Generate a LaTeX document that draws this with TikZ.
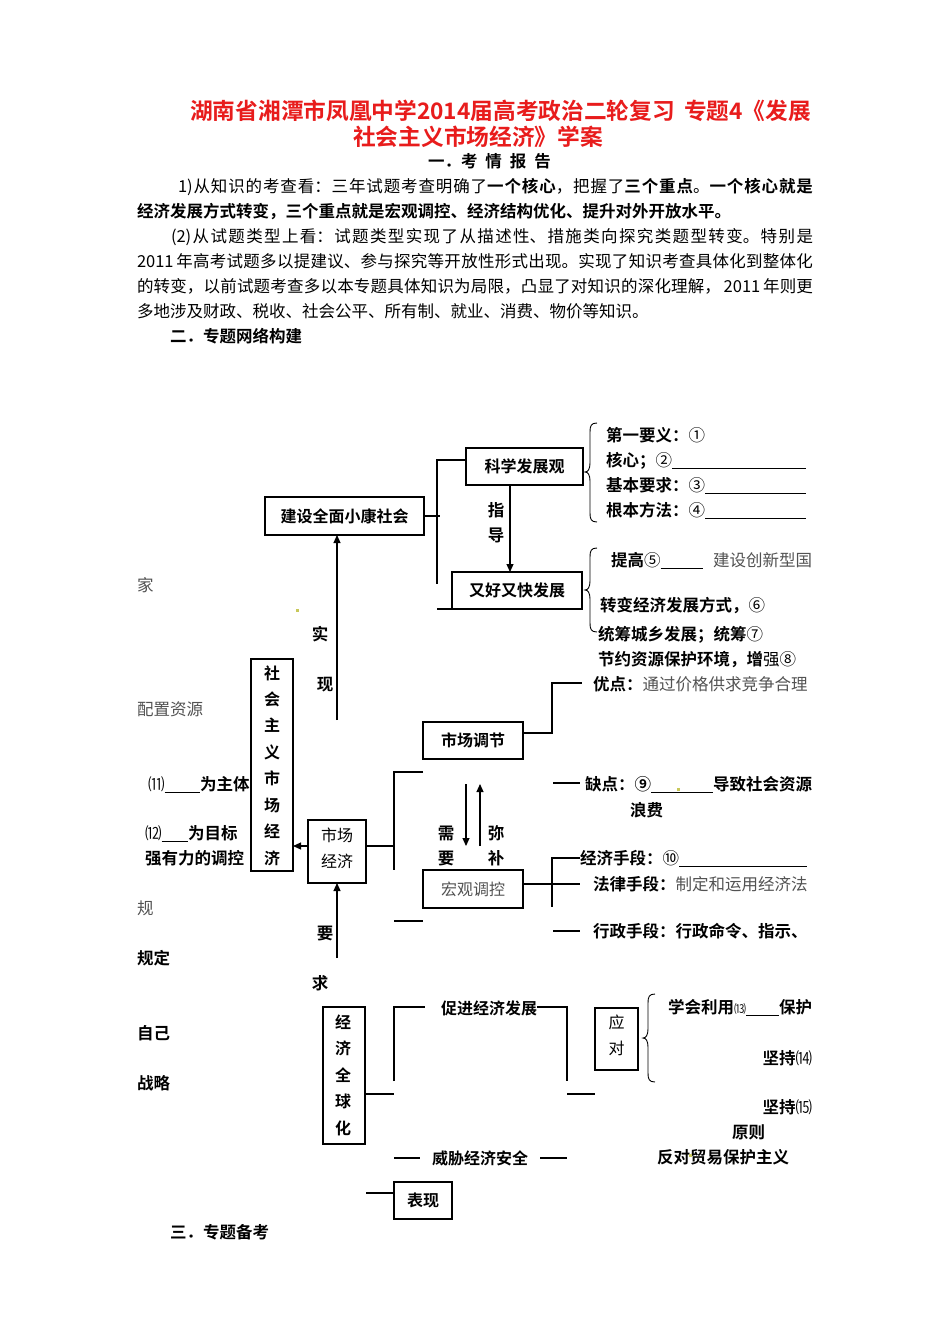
\documentclass[tikz,border=0pt]{standalone}
\usepackage{fontspec}
\setmainfont{Noto Sans CJK SC}[BoldFont={Noto Sans CJK SC Bold}]
\usetikzlibrary{arrows.meta}
\XeTeXlinebreaklocale "zh"
\XeTeXlinebreakskip=0pt plus 2pt minus 0.5pt
\definecolor{titlered}{RGB}{232,28,28}
\definecolor{soft}{gray}{0.32}
\definecolor{dotc}{RGB}{200,200,90}
\newcommand{\cbrace}[4]{%
  \draw[line width=0.9pt] ({#1+7},#2) .. controls ({#1+1},#2) and (#1,{#2+3}) .. (#1,{#2+9})
    -- (#1,{#3-9}) .. controls (#1,{#3-3}) and ({#1-2},#3) .. ({#1-5},#3)
    .. controls ({#1-2},#3) and (#1,{#3+3}) .. (#1,{#3+9})
    -- (#1,{#4-9}) .. controls (#1,{#4-3}) and ({#1+1},#4) .. ({#1+7},#4);}
\newcommand{\firstline}{\vrule width 0pt height 14.5pt depth 0pt\relax}
\tikzset{
  mytext/.style={inner sep=0pt, outer sep=0pt, anchor=west, text height=14.5pt, text depth=2pt, font=\fontsize{16.5}{20}\selectfont},
  mylbl/.style={mytext, anchor=center, font=\fontsize{16.5}{20}\selectfont\bfseries},
  mybox/.style={draw, line width=1.1pt, inner sep=0pt, outer sep=0pt, text height=14.1pt, text depth=1.9pt, font=\fontsize{16}{20}\selectfont\bfseries},
  boxch/.style={inner sep=0pt, outer sep=0pt, text height=14.1pt, text depth=1.9pt, font=\fontsize{16}{20}\selectfont\bfseries},
  boxchr/.style={boxch, font=\fontsize{16}{20}\selectfont},
  myline/.style={line width=1.1pt},
  myarrow/.style={line width=1.1pt, -{Triangle[length=8pt,width=7pt]}},
  myul/.style={line width=0.7pt},
  para/.style={anchor=north west, inner sep=0pt, outer sep=0pt, text width=676pt, align=justify, font=\fontsize{16.5}{25}\selectfont},
}
\begin{document}
\begin{tikzpicture}[x=1pt,y=-1pt]
\fill[white] (0,0) rectangle (950,1344);
\useasboundingbox (0,0) rectangle (950,1344);

% ---------- title ----------
\node[inner sep=0pt, anchor=west, text height=20pt, text depth=2.7pt, font=\fontsize{22.7}{26}\selectfont\bfseries, text=titlered] (t1) at (190,111) {湖南省湘潭市凤凰中学2014届高考政治二轮复习\hspace{9pt}专题4《发展};
\node[inner sep=0pt, anchor=west, text height=20pt, text depth=2.7pt, font=\fontsize{22.7}{26}\selectfont\bfseries, text=titlered] (t2) at (353,137) {社会主义市场经济》学案};
\node[mytext, font=\fontsize{16.5}{20}\selectfont\bfseries] (h1) at (428,161) {一．考\hspace{8pt}情\hspace{8pt}报\hspace{8pt}告};

\node[para] (p1) at (137,177.75) {\tolerance=9999 \firstline\hspace*{41pt}1)从知识的考查看：三年试题考查明确了\textbf{一个核心}，把握了\textbf{三个重点}。\textbf{一个核心就是}\linebreak\textbf{经济发展方式转变，三个重点就是宏观调控、经济结构优化、提升对外开放水平。}};
\node[para] (p2) at (137,227.75) {\tolerance=9999 \firstline\hspace*{34pt}(2)从试题类型上看：试题类型实现了从描述性、措施类向探究类题型转变。特别是\linebreak 2011\,年高考试题多以提建议、参与探究等开放性形式出现。实现了知识考查具体化到整体化\linebreak 的转变，以前试题考查多以本专题具体知识为局限，凸显了对知识的深化理解，\,2011\,年则更\linebreak 多地涉及财政、税收、社会公平、所有制、就业、消费、物价等知识。};

\node[mytext, font=\fontsize{16.5}{20}\selectfont\bfseries] (h2) at (170,336) {二．专题网络构建};
\node[mytext, font=\fontsize{16.5}{20}\selectfont\bfseries] (h3) at (170,1232) {三．专题备考};

% ---------- boxes ----------
\node[mybox, minimum width=159pt, minimum height=38pt] (js) at (344.5,516) {建设全面小康社会};
\node[mybox, minimum width=117pt, minimum height=37pt] (kx) at (524.5,466.5) {科学发展观};
\node[mybox, minimum width=130pt, minimum height=37pt] (hk) at (517,590.5) {又好又快发展};
\node[mybox, minimum width=42pt, minimum height=212pt] (sme) at (272,765) {};
\foreach \c [count=\i from 0] in {社,会,主,义,市,场,经,济}
  \node[boxch] (sme\i) at (272,{673+26.43*\i}) {\c};
\node[mybox, minimum width=58pt, minimum height=63pt] (scjj) at (337,851.5) {};
\node[boxchr] (scjja) at (337,835) {市场};
\node[boxchr] (scjjb) at (337,861) {经济};
\node[mybox, minimum width=100pt, minimum height=37pt] (sctj) at (473,740.5) {市场调节};
\node[mybox, minimum width=100pt, minimum height=38pt, font=\fontsize{16}{20}\selectfont, text=soft] (hgtk) at (473,889) {宏观调控};
\node[mybox, minimum width=42pt, minimum height=137pt] (qqh) at (344,1075.5) {};
\foreach \c [count=\i from 0] in {经,济,全,球,化}
  \node[boxch] (qqh\i) at (343,{1022+26.5*\i}) {\c};
\node[mybox, minimum width=43pt, minimum height=62pt] (yd) at (616.5,1039) {};
\node[boxchr] (yda) at (616.5,1022) {应};
\node[boxchr] (ydb) at (616.5,1048) {对};
\node[mybox, minimum width=58pt, minimum height=37pt] (bx) at (423,1200.5) {表现};

% ---------- top cluster connectors ----------
\coordinate (v1t) at (437,460);
\coordinate (v1b) at (437,584);
\coordinate (v1s) at (440,516);
\coordinate (v1c) at (437,609);
\draw[myline] (kx.west |- v1t) -- (v1t) -- (v1b);
\draw[myline] (js.east) -- (v1s);
\draw[myline] (v1c) -- (hk.south west);
\coordinate (zd) at (510,0);
\draw[myarrow] (kx.south -| zd) -- (hk.north -| zd);
\node[mylbl] (lz1) at (496,510) {指};
\node[mylbl] (lz2) at (496,535) {导};

\coordinate (sx) at (337,720);
\draw[myarrow] (sx) -- (js.south -| sx);
\node[mylbl] (ls1) at (320,634) {实};
\node[mylbl] (ls2) at (325,684) {现};

\coordinate (ya) at (300,846);
\draw[myarrow] (scjj.west |- ya) -- (sme.east |- ya);
\coordinate (yq) at (337,958);
\draw[myarrow] (yq) -- (scjj.south -| yq);
\node[mylbl] (lq1) at (325,933) {要};
\node[mylbl] (lq2) at (320,983) {求};

% ---------- middle cluster ----------
\coordinate (m1) at (394,846);
\coordinate (m1t) at (394,772);
\coordinate (m1b) at (394,870);
\coordinate (m1tr) at (423,772);
\coordinate (m1sl) at (394,921);
\coordinate (m1sr) at (423,921);
\draw[myline] (scjj.east |- m1) -- (m1);
\draw[myline] (m1tr) -- (m1t) -- (m1b);
\draw[myline] (m1sl) -- (m1sr);

\coordinate (xu1) at (466,784);
\coordinate (xu2) at (466,846);
\draw[myarrow] (xu1) -- (xu2);
\coordinate (mb1) at (480,846);
\coordinate (mb2) at (480,784);
\draw[myarrow] (mb1) -- (mb2);
\node[mylbl] (lx1) at (446,833) {需};
\node[mylbl] (lx2) at (446,858) {要};
\node[mylbl] (lm1) at (496,833) {弥};
\node[mylbl] (lm2) at (496,858) {补};

\coordinate (s1) at (552,733);
\coordinate (s2) at (552,683);
\coordinate (s3) at (582,683);
\draw[myline] (sctj.east |- s1) -- (s1) -- (s2) -- (s3);
\coordinate (q1) at (553,783);
\coordinate (q2) at (580,783);
\draw[myline] (q1) -- (q2);
\coordinate (hh1) at (580,884);
\coordinate (hh2) at (552,858);
\coordinate (hh3) at (552,907);
\coordinate (hh4) at (580,858);
\draw[myline] (hgtk.east |- hh1) -- (hh1);
\draw[myline] (hh4) -- (hh2) -- (hh3);
\coordinate (xz1) at (553,931);
\coordinate (xz2) at (580,931);
\draw[myline] (xz1) -- (xz2);

% ---------- bottom cluster ----------
\coordinate (g1) at (394,1094);
\coordinate (g2) at (394,1081);
\coordinate (g3) at (394,1007);
\coordinate (g4) at (425,1007);
\coordinate (g5) at (567,1007);
\coordinate (g6) at (567,1081);
\coordinate (g7) at (567,1094);
\coordinate (g8) at (595,1094);
\draw[myline] (qqh.east |- g1) -- (g1);
\draw[myline] (g2) -- (g3) -- (g4);
\node[mylbl, font=\fontsize{16}{20}\selectfont\bfseries] (cj) at (489,1008) {促进经济发展};
\draw[myline] (cj.east |- g5) -- (g5) -- (g6);
\draw[myline] (g7) -- (g8);
\coordinate (w1) at (394,1158);
\coordinate (w2) at (420,1158);
\coordinate (w3) at (540,1158);
\coordinate (w4) at (567,1158);
\node[mylbl, font=\fontsize{16}{20}\selectfont\bfseries] (wx) at (480,1158) {威胁经济安全};
\draw[myline] (w1) -- (w2);
\draw[myline] (w3) -- (w4);
\coordinate (b1) at (366,1193);
\draw[myline] (b1) -- (bx.west |- b1);

% ---------- braces ----------
\cbrace{590}{423}{472}{522}
\cbrace{590}{548}{590}{632}
\cbrace{648}{994}{1038}{1082}

% ---------- right texts ----------
\coordinate (ue) at (806,0);
\node[mytext] (r1) at (606,435) {\textbf{第一要义：}①};
\node[mytext] (r2) at (606,460) {\textbf{核心；}②};
\node[mytext] (r3) at (606,485) {\textbf{基本要求：}③};
\node[mytext] (r4) at (606,510) {\textbf{根本方法：}④};
\draw[myul] (r2.south east) -- (r2.south east -| ue);
\draw[myul] (r3.south east) -- (r3.south east -| ue);
\draw[myul] (r4.south east) -- (r4.south east -| ue);

\node[mytext] (r5a) at (611,560) {\textbf{提高}⑤};
\coordinate (r5u) at (703,0);
\draw[myul] (r5a.south east) -- (r5a.south east -| r5u);
\node[mytext] (r5b) at (713,560) {\textcolor{soft}{建设创新型国}};
\node[mytext] (r6) at (600,605) {\textbf{转变经济发展方式，}⑥};
\node[mytext] (r7) at (598,634) {\textbf{统筹城乡发展；统筹}⑦};
\node[mytext] (r8) at (598,659) {\textbf{节约资源保护环境，增}强⑧};
\node[mytext] (r9) at (593,684) {\textbf{优点：}\textcolor{soft}{通过价格供求竞争合理}};

\node[mytext] (r10a) at (585,784) {\textbf{缺点：⑨}};
\coordinate (r10u) at (713,0);
\draw[myul] (r10a.south east) -- (r10a.south east -| r10u);
\node[mytext] (r10b) at (713,784) {\textbf{导致社会资源}};
\node[mytext] (r11) at (630,810) {\textbf{浪费}};
\node[mytext] (r12) at (580,858) {\textbf{经济手段：}⑩};
\coordinate (r12u) at (807,0);
\draw[myul] (r12.south east) -- (r12.south east -| r12u);
\node[mytext] (r13) at (593,884) {\textbf{法律手段：}\textcolor{soft}{制定和运用经济法}};
\node[mytext] (r14) at (593,931) {\textbf{行政手段：行政命令、指示、}};

\node[mytext] (r15a) at (668,1007) {\textbf{学会利用}{\fontsize{12}{14}\selectfont ⒀}};
\coordinate (r15u) at (779,0);
\draw[myul] (r15a.south east) -- (r15a.south east -| r15u);
\node[mytext] (r15b) at (779,1007) {\textbf{保护}};
\node[mytext, anchor=east] (r16) at (812,1058) {\textbf{坚持}⒁};
\node[mytext, anchor=east] (r17) at (812,1107) {\textbf{坚持}⒂};
\node[mytext] (r18) at (732,1132) {\textbf{原则}};
\node[mytext] (r19) at (657,1157) {\textbf{反对贸易保护主义}};

% ---------- left texts ----------
\node[mytext] (l1) at (137,585) {\textcolor{soft}{家}};
\node[mytext] (l2) at (137,709) {\textcolor{soft}{配置资源}};
\node[mytext] (l3a) at (148,784) {⑾};
\coordinate (l3u) at (200,0);
\draw[myul] (l3a.south east) -- (l3a.south east -| l3u);
\node[mytext] (l3b) at (200,784) {\textbf{为主体}};
\node[mytext] (l4a) at (145,833) {⑿};
\coordinate (l4u) at (188,0);
\draw[myul] (l4a.south east) -- (l4a.south east -| l4u);
\node[mytext] (l4b) at (188,833) {\textbf{为目标}};
\node[mytext] (l5) at (145,858) {\textbf{强有力的调控}};
\node[mytext] (l6) at (137,908) {\textcolor{soft}{规}};
\node[mytext] (l7) at (137,958) {\textbf{规定}};
\node[mytext] (l8) at (137,1033) {\textbf{自己}};
\node[mytext] (l9) at (137,1083) {\textbf{战略}};

% ---------- stray dots ----------
\fill[dotc] (296,609) rectangle (299,612);
\fill[dotc] (677,788) rectangle (680,791);
\fill[dotc] (689,1154) rectangle (692,1157);
\end{tikzpicture}
\end{document}
